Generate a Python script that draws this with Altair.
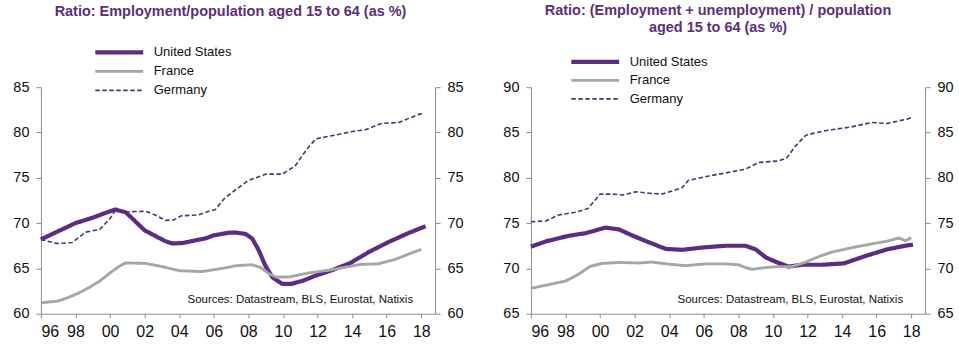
import altair as alt
import pandas as pd

SERIES = ["United States", "France", "Germany"]
COLORS = ["#5B2C83", "#A6A6A6", "#4E3272"]
WIDTHS = [4.2, 1.6, 1.5]
DASHES = [[1, 0], [1, 0], [4.5, 2.5]]
X_TICKS = list(range(1996, 2019, 2))
SOURCE = "Sources: Datastream, BLS, Eurostat, Natixis"

TITLE_EMP = "Ratio: Employment/population aged 15 to 64 (as %)"
TITLE_ACT = ["Ratio: (Employment + unemployment) / population", "aged 15 to 64 (as %)"]

# Panel 1: employment / population 15-64
EMP_US_YEARS = [1996.0, 1997.0, 1998.0, 1999.0, 1999.7, 2000.3, 2000.9, 2001.4, 2002.0, 2002.6,
                2003.2, 2003.6, 2004.2, 2004.95, 2005.5, 2006.0, 2006.9, 2007.3, 2007.84, 2008.22,
                2008.6, 2008.98, 2009.4, 2009.95, 2010.5, 2011.1, 2011.88, 2012.84, 2013.9, 2014.96,
                2016.1, 2017.26, 2018.25]
EMP_US_VALUES = [68.2, 69.1, 70.0, 70.6, 71.1, 71.5, 71.2, 70.3, 69.2, 68.6,
                 68.0, 67.75, 67.8, 68.1, 68.3, 68.65, 68.95, 68.95, 68.8, 68.3,
                 67.0, 65.3, 64.0, 63.3, 63.3, 63.6, 64.2, 64.8, 65.6, 66.8,
                 67.9, 68.9, 69.65]
EMP_FR_YEARS = [1996.0, 1997.0, 1997.6, 1998.2, 1998.8, 1999.4, 2000.0, 2000.5, 2000.9, 2002.06,
                2003.0, 2004.0, 2005.3, 2006.5, 2007.3, 2008.2, 2008.7, 2009.2, 2009.6, 2010.35,
                2011.5, 2012.65, 2013.8, 2014.5, 2015.5, 2016.5, 2017.3, 2018.0]
EMP_FR_VALUES = [61.2, 61.4, 61.8, 62.3, 62.9, 63.6, 64.5, 65.2, 65.6, 65.55,
                 65.2, 64.75, 64.65, 65.0, 65.3, 65.4, 65.1, 64.4, 64.05, 64.05,
                 64.5, 64.8, 65.2, 65.45, 65.5, 66.0, 66.6, 67.1]
EMP_DE_YEARS = [1996.0, 1996.9, 1997.8, 1998.6, 1999.4, 2000.0, 2000.3, 2000.9, 2002.06, 2002.6,
                2003.2, 2003.7, 2004.1, 2005.1, 2005.7, 2006.1, 2006.6, 2007.35, 2008.0, 2009.0,
                2009.95, 2010.7, 2011.4, 2011.9, 2013.0, 2014.0, 2014.76, 2015.7, 2016.7, 2017.85,
                2018.1]
EMP_DE_VALUES = [68.2, 67.75, 67.85, 69.0, 69.3, 70.5, 71.4, 71.25, 71.3, 70.9,
                 70.3, 70.35, 70.8, 70.9, 71.3, 71.5, 72.7, 73.8, 74.7, 75.4,
                 75.4, 76.3, 78.2, 79.3, 79.7, 80.1, 80.3, 81.0, 81.1, 82.0,
                 82.1]

# Panel 2: (employment + unemployment) / population 15-64
ACT_US_YEARS = [1996.0, 1996.9, 1998.2, 1999.2, 2000.3, 2001.1, 2001.9, 2002.8, 2003.8, 2004.75,
                2005.9, 2007.26, 2008.4, 2009.0, 2009.6, 2010.2, 2010.9, 2011.7, 2012.8, 2014.1,
                2015.4, 2016.6, 2017.8, 2018.1]
ACT_US_VALUES = [72.4, 73.0, 73.6, 73.9, 74.5, 74.3, 73.6, 72.9, 72.15, 72.05,
                 72.3, 72.5, 72.5, 72.1, 71.2, 70.7, 70.2, 70.4, 70.4, 70.55,
                 71.4, 72.1, 72.55, 72.6]
ACT_FR_YEARS = [1996.0, 1997.25, 1998.0, 1998.8, 1999.4, 2000.1, 2001.1, 2002.25, 2003.0, 2003.8,
                2004.95, 2006.1, 2007.26, 2008.0, 2008.4, 2008.8, 2009.6, 2010.3, 2011.1, 2011.9,
                2012.65, 2013.4, 2014.6, 2015.7, 2016.6, 2017.3, 2017.65, 2018.0]
ACT_FR_VALUES = [67.8, 68.3, 68.6, 69.4, 70.2, 70.55, 70.65, 70.6, 70.7, 70.5,
                 70.3, 70.5, 70.5, 70.4, 70.1, 69.9, 70.1, 70.2, 70.2, 70.7,
                 71.3, 71.8, 72.3, 72.7, 73.0, 73.35, 73.05, 73.4]
ACT_DE_YEARS = [1996.0, 1996.9, 1997.6, 1998.6, 1999.3, 2000.0, 2000.7, 2001.3, 2002.06, 2002.8,
                2003.6, 2004.75, 2005.1, 2006.3, 2007.45, 2008.4, 2009.2, 2010.3, 2010.8, 2011.3,
                2011.9, 2013.0, 2014.5, 2015.7, 2016.6, 2017.8, 2018.0]
ACT_DE_VALUES = [75.15, 75.25, 75.9, 76.2, 76.6, 78.2, 78.2, 78.1, 78.45, 78.3,
                 78.2, 78.9, 79.7, 80.2, 80.6, 80.95, 81.7, 81.85, 82.2, 83.5,
                 84.7, 85.2, 85.6, 86.1, 86.0, 86.5, 86.65]


def long_frame(pairs):
    rows = []
    for name, years, values in pairs:
        for y, v in zip(years, values):
            rows.append({"series": name, "year": y, "value": v})
    return pd.DataFrame(rows)


emp_df = long_frame([
    ("United States", EMP_US_YEARS, EMP_US_VALUES),
    ("France", EMP_FR_YEARS, EMP_FR_VALUES),
    ("Germany", EMP_DE_YEARS, EMP_DE_VALUES),
])
act_df = long_frame([
    ("United States", ACT_US_YEARS, ACT_US_VALUES),
    ("France", ACT_FR_YEARS, ACT_FR_VALUES),
    ("Germany", ACT_DE_YEARS, ACT_DE_VALUES),
])

W, H = 395, 227
AXIS_GRAY = "#8C8C8C"


def panel(df, ymin, ymax, title, title_dx, title_offset, leg_x, leg_y, row_pad):
    xscale = alt.Scale(domain=[1996, 2018.8], nice=False, zero=False)
    xaxis = alt.Axis(values=X_TICKS, labelExpr="substring(toString(datum.value), 2, 4)",
                     title=None, tickSize=4, labelPadding=6, labelFontSize=16,
                     domainColor=AXIS_GRAY, tickColor=AXIS_GRAY, grid=False, labelColor="#111")
    yscale = alt.Scale(domain=[ymin, ymax], nice=False, zero=False)
    yticks = list(range(ymin, ymax + 1, 5))

    def yaxis(orient):
        return alt.Axis(orient=orient, values=yticks, title=None, tickSize=5, labelPadding=7,
                        labelFontSize=14.5, domainColor=AXIS_GRAY, tickColor=AXIS_GRAY,
                        grid=False, labelColor="#111")

    legend = alt.Legend(title=None, orient="none", legendX=leg_x, legendY=leg_y,
                        symbolType="stroke", symbolSize=2304, clipHeight=14,
                        rowPadding=row_pad, labelFontSize=13, labelOffset=8, padding=0,
                        labelColor="#111")

    lines = alt.Chart(df).mark_line(strokeCap="butt", strokeJoin="round").encode(
        x=alt.X("year:Q", scale=xscale, axis=xaxis),
        y=alt.Y("value:Q", scale=yscale, axis=yaxis("left")),
        color=alt.Color("series:N", scale=alt.Scale(domain=SERIES, range=COLORS), legend=legend),
        strokeWidth=alt.StrokeWidth("series:N", scale=alt.Scale(domain=SERIES, range=WIDTHS), legend=legend),
        strokeDash=alt.StrokeDash("series:N", scale=alt.Scale(domain=SERIES, range=DASHES), legend=legend),
        order=alt.Order("year:Q"),
    )
    right_axis = alt.Chart(df).mark_point(opacity=0).encode(
        x=alt.X("year:Q", scale=xscale, axis=xaxis),
        y=alt.Y("value:Q", scale=yscale, axis=yaxis("right")),
    )
    src = alt.Chart(pd.DataFrame({"t": [SOURCE]})).mark_text(
        align="right", baseline="middle", fontSize=11.5, color="#111"
    ).encode(text="t:N", x=alt.value(W - 22), y=alt.value(H - 14))

    return alt.layer(lines, right_axis, src).resolve_scale(y="independent").properties(
        width=W, height=H,
        title=alt.TitleParams(text=title, fontSize=14.5, fontWeight="bold", color="#5C2E7E",
                              anchor="middle", frame="group", dx=title_dx, offset=title_offset,
                              lineHeight=17),
    )


left = panel(emp_df, 60, 85, TITLE_EMP, -7.5, 26, 52, -41.8, 5)
right = panel(act_df, 65, 90, TITLE_ACT, -10, 19.8, 38, -32.3, 4.5)

chart = alt.hconcat(left, right, spacing=96, bounds="flush").resolve_legend(
    color="independent", strokeWidth="independent", strokeDash="independent"
).properties(
    padding={"left": 12, "top": 2, "right": 5, "bottom": 5}
).configure(font="Liberation Sans").configure_view(stroke=None)

chart.save("out.html", embed_options={"renderer": "svg", "actions": False})
